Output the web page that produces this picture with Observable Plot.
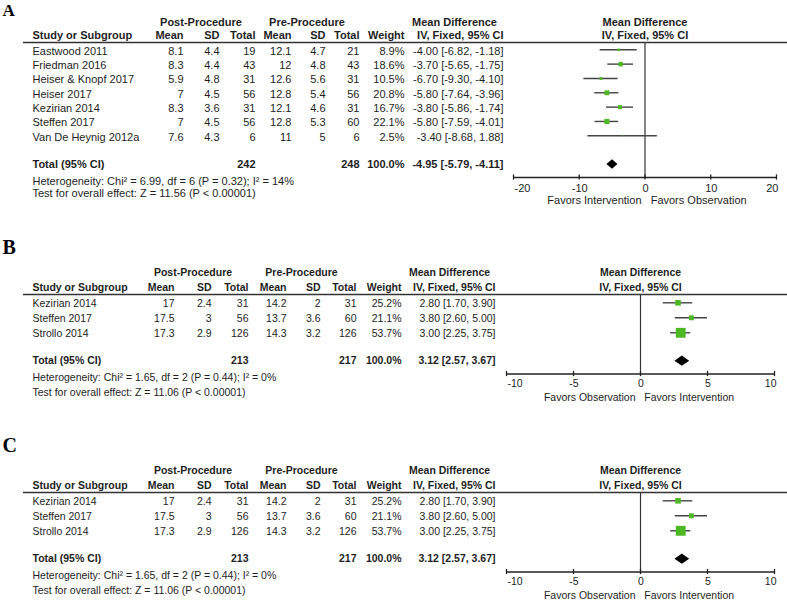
<!DOCTYPE html>
<html><head><meta charset="utf-8">
<script src="https://cdn.jsdelivr.net/npm/d3@7"></script>
<script src="https://cdn.jsdelivr.net/npm/@observablehq/plot@0.6"></script>
<style>
html,body{margin:0;padding:0;background:#fff;}
svg{display:block;}
svg text{white-space:pre;}
</style></head><body>
<script>
// ---------- Panel A data ----------
const studiesA = ["Eastwood 2011", "Friedman 2016", "Heiser & Knopf 2017", "Heiser 2017", "Kezirian 2014", "Steffen 2017", "Van De Heynig 2012a"];
const postMeanA = [8.1, 8.3, 5.9, 7, 8.3, 7, 7.6];
const postSdA = [4.4, 4.4, 4.8, 4.5, 3.6, 4.5, 4.3];
const postNA = [19, 43, 31, 56, 31, 56, 6];
const preMeanA = [12.1, 12, 12.6, 12.8, 12.1, 12.8, 11];
const preSdA = [4.7, 4.8, 5.6, 5.4, 4.6, 5.3, 5];
const preNA = [21, 43, 31, 56, 31, 60, 6];
const weightA = [8.9, 18.6, 10.5, 20.8, 16.7, 22.1, 2.5];
const mdA = [-4.00, -3.70, -6.70, -5.80, -3.80, -5.80, -3.40];
const loA = [-6.82, -5.65, -9.30, -7.64, -5.86, -7.59, -8.68];
const hiA = [-1.18, -1.75, -4.10, -3.96, -1.74, -4.01, 1.88];
const totalsA = [242, 248];
const pooledA = [-4.95, -5.79, -4.11];
const hetA = "Heterogeneity: Chi\u00B2 = 6.99, df = 6 (P = 0.32); I\u00B2 = 14%";
const testA = "Test for overall effect: Z = 11.56 (P < 0.00001)";
const ticksA = [-20, -10, 0, 10, 20];
const favorsA = ["Favors Intervention", "Favors Observation"];

// ---------- Panels B and C data (identical in the figure) ----------
const studiesB = ["Kezirian 2014", "Steffen 2017", "Strollo 2014"];
const postMeanB = [17, 17.5, 17.3];
const postSdB = [2.4, 3, 2.9];
const postNB = [31, 56, 126];
const preMeanB = [14.2, 13.7, 14.3];
const preSdB = [2, 3.6, 3.2];
const preNB = [31, 60, 126];
const weightB = [25.2, 21.1, 53.7];
const mdB = [2.80, 3.80, 3.00];
const loB = [1.70, 2.60, 2.25];
const hiB = [3.90, 5.00, 3.75];
const totalsB = [213, 217];
const pooledB = [3.12, 2.57, 3.67];
const hetB = "Heterogeneity: Chi\u00B2 = 1.65, df = 2 (P = 0.44); I\u00B2 = 0%";
const testB = "Test for overall effect: Z = 11.06 (P < 0.00001)";
const ticksB = [-10, -5, 0, 5, 10];
const favorsB = ["Favors Observation", "Favors Intervention"];

const GREEN = "#4cb824";
const INK = "#1e1e1e";
const ML = 23;

function panel(D, L) {
  const n = D.studies.length;
  const idx = d3.range(n);
  const toRow = px => (px - L.row0) / L.step;
  const C = L.cols;
  const fmt2 = v => v.toFixed(2);
  const col = (arr, px, anchor = "end") => Plot.text(idx, {
    y: i => i, text: i => String(arr[i]), frameAnchor: "left",
    dx: px - ML, dy: L.textDy, textAnchor: anchor, fill: INK, fontSize: L.fs
  });
  const txt = (s, px, py, anchor, bold) => Plot.text([s], {
    y: toRow(py), frameAnchor: "left", dx: px - ML, textAnchor: anchor,
    fontWeight: bold ? "bold" : "normal", fill: INK, fontSize: L.fs
  });
  const xtxt = (s, xv, py, anchor, bold, dx = 0) => Plot.text([s], {
    x: xv, y: toRow(py), textAnchor: anchor, dx,
    fontWeight: bold ? "bold" : "normal", fill: INK, fontSize: L.fs
  });
  const ti = L.totalIdx;
  const hh = L.diamondHalf / L.step;
  const dia = [{x: D.pooled[1], h: 0}, {x: D.pooled[0], h: hh}, {x: D.pooled[2], h: 0}];
  const tk = D.ticks;
  const axisRow = toRow(L.axisY);
  const tickH = 2.6 / L.step;

  return Plot.plot({
    width: 787, height: L.height,
    marginLeft: ML, marginRight: 0, marginTop: 0, marginBottom: 0,
    style: {fontFamily: "'Liberation Sans', Arial, sans-serif", fontSize: L.fs + "px", background: "#fff", color: INK},
    x: {domain: L.domain, range: L.xRange, axis: null},
    y: {domain: [0, 1], range: [L.row0, L.row0 + L.step], axis: null},
    r: {type: "pow", exponent: 0.75, domain: [0, 100], range: [0, 8.9]},
    marks: [
      // panel letter
      Plot.text([L.label], {y: toRow(L.labelY), frameAnchor: "left", dx: 2 - ML, textAnchor: "start",
        fontFamily: "'Liberation Serif', 'Times New Roman', serif", fontWeight: "bold", fontSize: L.labelSize, fill: "#000"}),
      // group headers
      txt("Post-Procedure", L.postCenter, L.groupY, "middle", true),
      txt("Pre-Procedure", L.preCenter, L.groupY, "middle", true),
      txt("Mean Difference", L.mdHeadCenter, L.groupY, "middle", true),
      xtxt("Mean Difference", 0, L.groupY, "middle", true),
      // column headers
      txt("Study or Subgroup", C.study, L.headY, "start", true),
      txt("Mean", C.postMean, L.headY, "end", true),
      txt("SD", C.postSd, L.headY, "end", true),
      txt("Total", C.postN, L.headY, "end", true),
      txt("Mean", C.preMean, L.headY, "end", true),
      txt("SD", C.preSd, L.headY, "end", true),
      txt("Total", C.preN, L.headY, "end", true),
      txt("Weight", C.weight, L.headY, "end", true),
      txt("IV, Fixed, 95% CI", C.md, L.headY, "end", true),
      xtxt("IV, Fixed, 95% CI", 0, L.headY, "middle", true),
      // header rule
      Plot.ruleY([toRow(L.ruleY)], {stroke: "#333", strokeWidth: 1.5}),
      // study rows
      col(D.studies, C.study, "start"),
      col(D.postMean, C.postMean),
      col(D.postSd, C.postSd),
      col(D.postN, C.postN),
      col(D.preMean, C.preMean),
      col(D.preSd, C.preSd),
      col(D.preN, C.preN),
      col(D.weight.map(w => w.toFixed(1) + "%"), C.weight),
      col(idx.map(i => `${fmt2(D.md[i])} [${fmt2(D.lo[i])}, ${fmt2(D.hi[i])}]`), C.md),
      // total row
      txt("Total (95% CI)", C.study, L.totalTextY, "start", true),
      txt(String(D.totals[0]), C.postN, L.totalTextY, "end", true),
      txt(String(D.totals[1]), C.preN, L.totalTextY, "end", true),
      txt("100.0%", C.weight, L.totalTextY, "end", true),
      txt(`${fmt2(D.pooled[0])} [${fmt2(D.pooled[1])}, ${fmt2(D.pooled[2])}]`, C.md, L.totalTextY, "end", true),
      txt(D.het, C.study, L.hetY, "start", false),
      txt(D.test, C.study, L.testY, "start", false),
      // zero line
      Plot.ruleX([0], {y1: toRow(L.ruleY), y2: axisRow, stroke: "#333", strokeWidth: 1.2}),
      // CIs
      Plot.ruleY(idx, {y: i => i, x1: i => D.lo[i], x2: i => D.hi[i], stroke: "#444", strokeWidth: 1.4}),
      // squares
      Plot.dot(idx, {x: i => D.md[i], y: i => i, r: i => D.weight[i], symbol: "square", fill: GREEN, stroke: "none"}),
      // diamond
      Plot.areaY(dia, {x: "x", y1: p => ti - p.h, y2: p => ti + p.h, fill: "#000"}),
      // axis
      Plot.ruleY([axisRow], {x1: tk[0], x2: tk[tk.length - 1], stroke: "#222", strokeWidth: 1.3}),
      Plot.ruleX(tk, {x: d => d, y1: axisRow - tickH, y2: axisRow + tickH, stroke: "#222", strokeWidth: 1.3}),
      Plot.text(tk.slice(0, 1), {x: d => d, y: toRow(L.tickY), text: d => String(d), textAnchor: "start", dx: 1, fill: INK, fontSize: L.fs}),
      Plot.text(tk.slice(1, -1), {x: d => d, y: toRow(L.tickY), text: d => String(d), textAnchor: "middle", dx: 0.5, fill: INK, fontSize: L.fs}),
      Plot.text(tk.slice(-1), {x: d => d, y: toRow(L.tickY), text: d => String(d), textAnchor: "end", dx: 2, fill: INK, fontSize: L.fs}),
      xtxt(D.favors[0] + "   " + D.favors[1], 0, L.favorsY, "middle", false, L.favorsDx)
    ]
  });
}

const dataA = {studies: studiesA, postMean: postMeanA, postSd: postSdA, postN: postNA, preMean: preMeanA, preSd: preSdA, preN: preNA,
  weight: weightA, md: mdA, lo: loA, hi: hiA, totals: totalsA, pooled: pooledA, het: hetA, test: testA, ticks: ticksA, favors: favorsA};
const dataB = {studies: studiesB, postMean: postMeanB, postSd: postSdB, postN: postNB, preMean: preMeanB, preSd: preSdB, preN: preNB,
  weight: weightB, md: mdB, lo: loB, hi: hiB, totals: totalsB, pooled: pooledB, het: hetB, test: testB, ticks: ticksB, favors: favorsB};

const layoutA = {
  height: 207, label: "A", labelSize: 17, labelY: 10, fs: 11,
  domain: [-20, 20], xRange: [513, 776],
  row0: 49.3, step: 14.33, textDy: 1.5, totalIdx: 8, totalTextY: 164.3, diamondHalf: 4.7,
  groupY: 21.5, headY: 35.2, ruleY: 42, axisY: 177, tickY: 187.5, favorsY: 200, favorsDx: 2,
  hetY: 180.6, testY: 193.4,
  postCenter: 200.5, preCenter: 306.5, mdHeadCenter: 454,
  cols: {study: 32, postMean: 183, postSd: 219, postN: 255, preMean: 291, preSd: 325, preN: 359, weight: 404, md: 503}
};
const layoutB = {
  height: 198, label: "B", labelSize: 20, labelY: 40.5, fs: 10.5,
  domain: [-10, 10], xRange: [506, 774],
  row0: 95.3, step: 15, textDy: 1.2, totalIdx: 3.89, totalTextY: 153.3, diamondHalf: 5.2,
  groupY: 65.5, headY: 79.8, ruleY: 87, axisY: 166.5, tickY: 176.5, favorsY: 190, favorsDx: -1.5,
  hetY: 170, testY: 185.3,
  postCenter: 192.5, preCenter: 301, mdHeadCenter: 449,
  cols: {study: 32, postMean: 174, postSd: 211, postN: 248, preMean: 286, preSd: 320, preN: 356, weight: 401, md: 495}
};
const layoutC = Object.assign({}, layoutB, {height: 196, label: "C"});

document.body.append(panel(dataA, layoutA));
document.body.append(panel(dataB, layoutB));
document.body.append(panel(dataB, layoutC));
</script>
</body></html>
